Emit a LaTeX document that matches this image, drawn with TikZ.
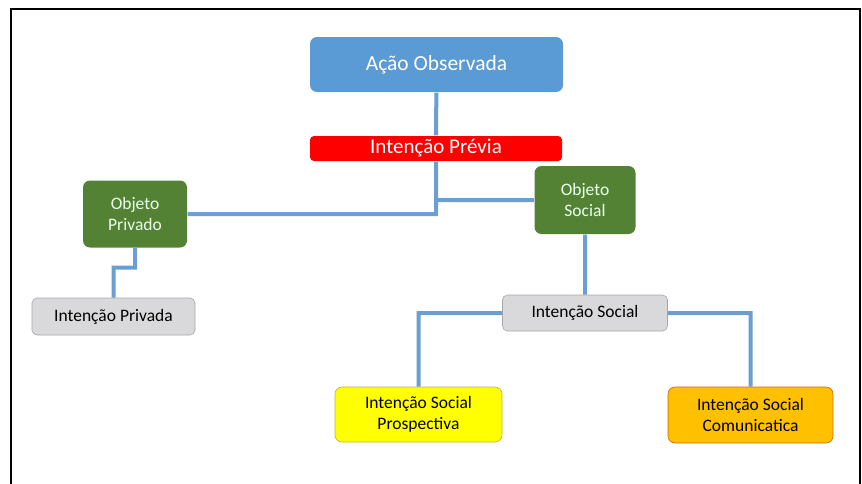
\documentclass[tikz,border=0pt]{standalone}
\usepackage{fontspec}
\setmainfont{Carlito}
\usepackage{tikz}
\usetikzlibrary{positioning}
\definecolor{azul}{HTML}{5B9BD5}
\definecolor{linha}{HTML}{6A9FD3}
\definecolor{verde}{HTML}{548235}
\definecolor{cinza}{HTML}{D9D9DB}
\definecolor{amarelo}{HTML}{FFFF00}
\definecolor{laranja}{HTML}{FFC000}

\begin{document}
\begin{tikzpicture} [x=1pt,y=-1pt,line width=0.4mm,
  caixa/.style={rounded corners=7pt,align=center,inner sep=0pt},
  liga/.style={draw=linha,line width=4pt}]

  \useasboundingbox (0,0) rectangle (862,483);
  \draw[line width=2.5pt] (11,490) -- (11,9) -- (860,9) -- (860,490);

  \node[caixa,fill=azul,text=white,font=\fontsize{21.5}{24}\selectfont,minimum width=253pt,minimum height=55pt] (acao) at (436.5,64.5) {Ação Observada};
  \node[caixa,rounded corners=4pt,fill=red,text=white,font=\fontsize{21}{23}\selectfont,minimum width=252pt,minimum height=25pt] (previa) at (436,148.5) {Intenção Prévia};
  \node[caixa,fill=verde,text=green!8,font=\fontsize{17.5}{21}\selectfont,minimum width=104pt,minimum height=67pt] (objpriv) at (135,214) {Objeto\\Privado};
  \node[caixa,fill=verde,text=green!8,font=\fontsize{17.5}{21}\selectfont,minimum width=101pt,minimum height=68pt] (objsoc) at (585,200) {Objeto\\Social};
  \node[caixa,rounded corners=5pt,fill=cinza,draw=gray!70,line width=0.6pt,font=\fontsize{17.5}{20}\selectfont,minimum width=163pt,minimum height=37pt] (intpriv) at (113.5,316.5) {Intenção Privada};
  \node[caixa,rounded corners=5pt,fill=cinza,draw=gray!70,line width=0.6pt,font=\fontsize{17.5}{20}\selectfont,minimum width=165pt,minimum height=36pt] (intsoc) at (585,313) {Intenção Social};
  \node[caixa,fill=amarelo,draw=yellow!70!black,line width=0.6pt,font=\fontsize{17.5}{21}\selectfont,minimum width=167pt,minimum height=55pt] (prosp) at (418.5,414.5) {Intenção Social\\Prospectiva};
  \node[caixa,fill=laranja,draw=orange!80!black,line width=0.6pt,font=\fontsize{17.5}{21}\selectfont,minimum width=165pt,minimum height=56pt] (comun) at (750.5,415) {Intenção Social\\Comunicatica};

  \path[liga]
    (acao) -- (previa)
    (previa.south) |- (objpriv.east)
    (previa.south) |- (objsoc.west)
    (objpriv.south) -- ++(0,19.5) -| (intpriv.north)
    (objsoc) -- (intsoc)
    (intsoc.west) -| (prosp.north)
    (intsoc.east) -| (comun.north);

\end{tikzpicture}
\end{document}
